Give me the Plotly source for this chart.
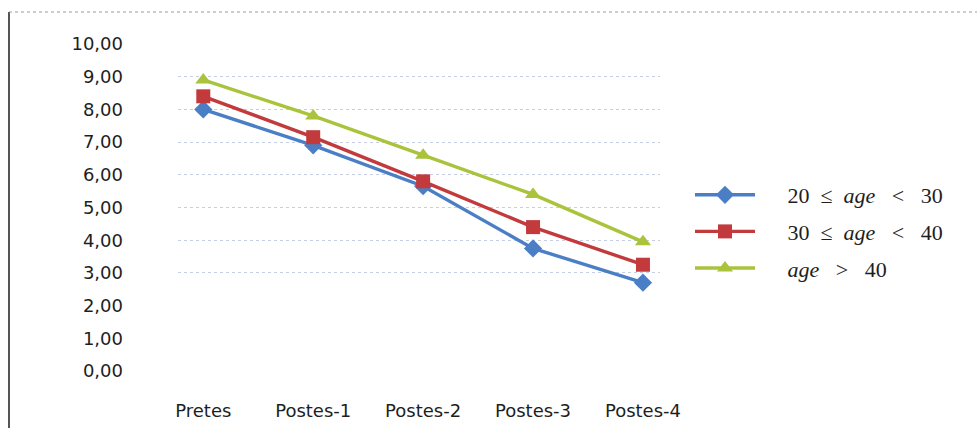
import plotly.graph_objects as go

# Test sessions on the x axis
sessions = ["Pretes", "Postes-1", "Postes-2", "Postes-3", "Postes-4"]

# Mean scores per age group
age_20_30 = [8.00, 6.90, 5.65, 3.75, 2.70]
age_30_40 = [8.40, 7.15, 5.80, 4.40, 3.25]
age_40_up = [8.90, 7.80, 6.60, 5.40, 3.95]

NB = "\u00a0"
group_names = [
    NB * 5 + "20" + NB * 2 + "≤" + NB * 2 + "<i>age</i>" + NB * 3 + "&lt;" + NB * 3 + "30",
    NB * 5 + "30" + NB * 2 + "≤" + NB * 2 + "<i>age</i>" + NB * 3 + "&lt;" + NB * 3 + "40",
    NB * 5 + "<i>age</i>" + NB * 3 + "&gt;" + NB * 3 + "40",
]

y_ticks = [0, 1, 2, 3, 4, 5, 6, 7, 8, 9, 10]
y_tick_text = ["0,00", "1,00", "2,00", "3,00", "4,00", "5,00",
               "6,00", "7,00", "8,00", "9,00", "10,00"]
grid_ticks = [3, 4, 5, 6, 7, 8, 9]

series = [
    (age_20_30, "#4a7fc6", "diamond", 14),
    (age_30_40, "#c23a3c", "square", 14),
    (age_40_up, "#a9c43c", "triangle-up", 14),
]

fig = go.Figure()

# Invisible trace that carries the partial grid on a second y axis
fig.add_trace(go.Scatter(x=sessions, y=[None] * len(sessions), yaxis="y2",
                         showlegend=False, hoverinfo="skip"))

for i, (vals, color, symbol, size) in enumerate(series):
    fig.add_trace(go.Scatter(
        x=sessions, y=vals, name=group_names[i], legendgroup=f"g{i}",
        mode="lines+markers",
        line=dict(color=color, width=3.4),
        marker=dict(symbol=symbol, size=size, color=color),
    ))

W, H = 977, 428
L, R = 178, 660          # plot area in pixels (horizontal)
T, B = 44, 371           # plot area in pixels (vertical)


def px_x(px):
    return (px - L) / (R - L)


def px_y(py):
    return (B - py) / (B - T)


fig.update_layout(
    width=W, height=H,
    margin=dict(l=L, r=W - R, t=T, b=H - B, pad=0, autoexpand=False),
    paper_bgcolor="white", plot_bgcolor="white",
    font=dict(family="DejaVu Sans", color="#1e1e1e"),
    xaxis=dict(
        type="category", categoryorder="array", categoryarray=sessions,
        range=[-0.23, 4.155], showgrid=False, zeroline=False, showline=False,
        ticks="", tickfont=dict(size=18, family="DejaVu Sans", color="#1e1e1e"),
        ticklabelstandoff=27, automargin=False,
    ),
    yaxis=dict(
        range=[0, 10], tickvals=y_ticks, ticktext=y_tick_text,
        showgrid=False, zeroline=False, showline=False, ticks="",
        tickfont=dict(size=18, family="DejaVu Sans", color="#1e1e1e"),
        ticklabelstandoff=54, automargin=False,
    ),
    yaxis2=dict(
        range=[0, 10], overlaying="y", tickvals=grid_ticks, showticklabels=False,
        showgrid=True, gridcolor="#c6cde4", gridwidth=1, griddash="dot",
        zeroline=False, showline=False, ticks="", automargin=False,
    ),
    legend=dict(
        x=px_x(690), y=px_y(174), xanchor="left", yanchor="top",
        font=dict(family="Liberation Serif", size=22, color="#1e1e1e"),
        bgcolor="rgba(0,0,0,0)", itemwidth=60, tracegroupgap=5,
    ),
    shapes=[
        dict(type="line", xref="paper", yref="paper",
             x0=px_x(9), x1=px_x(9), y0=px_y(12), y1=px_y(428),
             line=dict(color="#555555", width=2)),
        dict(type="line", xref="paper", yref="paper",
             x0=px_x(9), x1=px_x(977), y0=px_y(12), y1=px_y(12),
             line=dict(color="#9a9a9a", width=1, dash="dot")),
    ],
)

fig.write_html("out.html")
